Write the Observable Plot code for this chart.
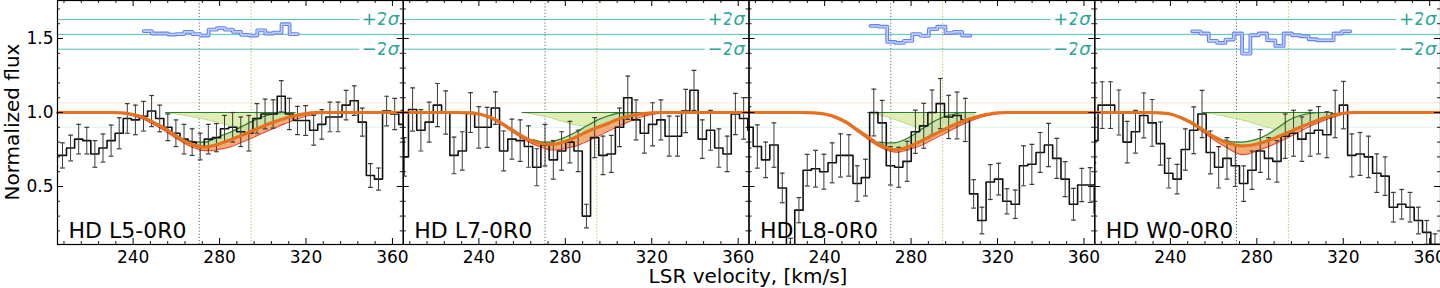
<!DOCTYPE html>
<html><head><meta charset="utf-8">
<script src="https://cdn.jsdelivr.net/npm/d3@7"></script>
<script src="https://cdn.jsdelivr.net/npm/@observablehq/plot@0.6"></script>
<style>
body{margin:0;background:#fff;}
#wrap{position:relative;width:1440px;height:288px;overflow:hidden;font-family:"DejaVu Sans",sans-serif;}
#ylab{position:absolute;left:12px;top:122px;transform:translate(-50%,-50%) rotate(-90deg);font-size:20px;white-space:nowrap;line-height:1;}
#xlab{position:absolute;left:748px;top:276px;transform:translate(-50%,-50%);font-size:20px;white-space:nowrap;line-height:1;}
</style></head>
<body><div id="wrap"><div id="ylab">Normalized flux</div><div id="xlab">LSR velocity, [km/s]</div></div>
<script>
// ---- panels ----
const panels = ["HD L5-0R0", "HD L7-0R0", "HD L8-0R0", "HD W0-0R0"];

// ---- observed spectra (bin centre of first bin, bin width, flux, 1-sigma error) ----
const binStart = [207.3, 205.5, 205.0, 204.6];
const binWidth = [3.75, 3.83, 3.85, 3.85];
const fluxL5 = [0.71,0.76,0.82,0.81,0.72,0.76,0.81,0.86,0.96,0.95,0.975,1.01,0.96,0.90,0.86,0.82,0.80,0.77,0.82,0.83,0.89,0.90,0.87,0.86,0.96,0.99,0.99,1.11,0.99,0.946,0.946,0.88,0.92,0.97,0.97,1.05,1.08,0.935,0.574,0.55,1.01,0.99,0.92];
const errL5 = [0.085,0.087,0.10,0.09,0.09,0.095,0.105,0.105,0.10,0.10,0.10,0.105,0.09,0.09,0.09,0.10,0.09,0.09,0.10,0.095,0.09,0.10,0.10,0.12,0.10,0.10,0.095,0.105,0.105,0.095,0.10,0.10,0.10,0.10,0.10,0.10,0.10,0.095,0.08,0.075,0.10,0.105,0.095];
const fluxL7 = [0.70,1.02,0.88,0.935,1.05,1.0,0.71,0.74,1.0,0.90,0.90,1.03,0.74,0.82,0.81,0.77,0.63,0.78,0.68,0.74,0.80,0.74,0.30,0.83,0.71,0.72,0.90,1.10,0.95,0.86,0.92,0.95,0.84,0.84,1.01,1.15,0.82,0.88,0.76,0.72,0.99,0.96,0.88];
const errL7 = [0.13,0.146,0.14,0.135,0.146,0.146,0.124,0.13,0.135,0.14,0.135,0.11,0.135,0.135,0.14,0.14,0.125,0.14,0.13,0.13,0.14,0.14,0.08,0.135,0.13,0.125,0.13,0.146,0.135,0.135,0.146,0.135,0.135,0.135,0.146,0.135,0.13,0.135,0.13,0.12,0.14,0.14,0.135];
const fluxL8 = [0.90,0.77,0.68,0.78,0.49,0.09,0.34,0.61,0.62,0.60,0.66,0.71,0.71,0.52,0.56,1.0,0.93,0.64,0.63,0.67,0.87,0.91,1.0,1.06,0.97,0.98,0.95,0.45,0.27,0.53,0.55,0.40,0.38,0.64,0.65,0.73,0.78,0.69,0.55,0.38,0.51,0.51,0.32];
const errL8 = [0.14,0.146,0.12,0.15,0.1,0.06,0.085,0.107,0.124,0.118,0.135,0.146,0.14,0.12,0.124,0.158,0.152,0.13,0.135,0.135,0.146,0.152,0.152,0.17,0.146,0.158,0.146,0.096,0.09,0.118,0.107,0.085,0.096,0.135,0.135,0.135,0.146,0.135,0.118,0.107,0.112,0.118,0.1];
const fluxW0 = [0.81,1.05,1.05,1.0,0.80,0.87,0.98,0.93,0.79,0.59,0.55,0.75,0.88,0.99,0.73,0.63,0.69,0.64,0.52,0.61,0.74,0.69,0.67,0.84,0.86,0.82,0.86,0.88,0.85,0.99,1.05,0.71,0.72,0.70,0.59,0.57,0.36,0.38,0.36,0.27,0.19,0.11,0.09];
const errW0 = [0.15,0.158,0.158,0.152,0.14,0.144,0.152,0.158,0.146,0.10,0.10,0.14,0.158,0.16,0.145,0.14,0.14,0.14,0.12,0.13,0.145,0.14,0.14,0.15,0.155,0.15,0.155,0.16,0.155,0.16,0.16,0.145,0.145,0.14,0.13,0.13,0.1,0.1,0.1,0.09,0.08,0.07,0.07];
const fluxes = [fluxL5, fluxL7, fluxL8, fluxW0];
const errors = [errL5, errL7, errL8, errW0];

// ---- residuals (shown around the offset level) ----
const resStart = [246.8, null, 263.2, 252.0];
const resWidth = [3.75, 3.83, 3.85, 3.85];
const resL5 = [1.55,1.534,1.534,1.527,1.53,1.545,1.53,1.52,1.56,1.57,1.56,1.545,1.525,1.52,1.555,1.534,1.54,1.597,1.53];
const resL7 = [];
const resL8 = [1.585,1.58,1.477,1.47,1.484,1.53,1.518,1.563,1.58,1.537,1.545,1.52];
const resW0 = [1.549,1.534,1.484,1.47,1.493,1.534,1.398,1.522,1.534,1.488,1.45,1.534,1.522,1.515,1.495,1.488,1.488,1.534,1.549];
const residuals = [resL5, resL7, resL8, resW0];
const sigmaLevels = [1.628, 1.528, 1.428];
const sigmaLabels = [{sign: "+2", sym: "σ", y: 1.628}, {sign: "−2", sym: "σ", y: 1.428}];

// ---- model curves, sampled at modelVelocity ----
const modelVelocity = [205,230,235,240,245,250,255,260,265,270,273,276,280,285,290,295,300,305,310,315,320,325,330,365];
const modelTotal = [
  [1,1,0.998,0.986,0.965,0.93,0.89,0.842,0.80,0.774,0.766,0.773,0.789,0.815,0.844,0.875,0.907,0.936,0.96,0.979,0.993,0.999,1,1],
  [1,1,0.998,0.99,0.97,0.932,0.886,0.84,0.805,0.787,0.784,0.788,0.805,0.835,0.87,0.9,0.928,0.958,0.978,0.991,0.998,1,1,1],
  [1,1,0.998,0.99,0.97,0.935,0.885,0.835,0.786,0.756,0.748,0.755,0.775,0.81,0.846,0.882,0.917,0.947,0.97,0.987,0.998,1,1,1],
  [1,1,0.998,0.99,0.965,0.93,0.885,0.838,0.803,0.78,0.775,0.777,0.787,0.809,0.838,0.869,0.9,0.93,0.958,0.98,0.995,1,1,1]
];
const modelLower = [
  [1,1,0.995,0.978,0.953,0.915,0.873,0.825,0.782,0.752,0.742,0.743,0.752,0.768,0.798,0.828,0.862,0.893,0.923,0.952,0.975,0.992,0.999,1],
  [1,1,0.996,0.985,0.962,0.922,0.875,0.826,0.788,0.76,0.748,0.748,0.758,0.775,0.805,0.84,0.875,0.91,0.942,0.97,0.988,0.997,1,1],
  [1,1,0.996,0.985,0.962,0.925,0.873,0.82,0.772,0.74,0.732,0.738,0.755,0.78,0.818,0.855,0.893,0.928,0.957,0.978,0.993,1,1,1],
  [1,1,0.996,0.985,0.958,0.92,0.87,0.818,0.772,0.73,0.716,0.72,0.742,0.768,0.8,0.835,0.872,0.91,0.94,0.966,0.988,0.998,1,1]
];
const N = null;
const componentA = [
  [N,N,N,N,N,N,N,N,0.812,0.80,0.80,0.812,0.838,0.867,0.903,0.94,0.972,0.99,1,1,N,N,N,N],
  [N,N,N,N,N,N,N,N,0.817,0.80,0.80,0.812,0.833,0.868,0.91,0.95,0.978,0.996,1,1,N,N,N,N],
  [N,N,N,N,N,N,N,N,0.80,0.795,0.797,0.81,0.84,0.888,0.935,0.97,0.99,1,1,N,N,N,N,N],
  [N,N,N,N,N,N,N,N,0.815,0.80,0.80,0.805,0.82,0.852,0.9,0.95,0.98,0.995,1,1,N,N,N,N]
];
const componentB = [
  [N,N,N,N,N,N,1,0.99,0.978,0.963,0.955,0.945,0.93,0.912,0.903,0.94,0.972,0.99,1,N,N,N,N,N],
  [N,N,N,N,N,N,N,1,0.99,0.975,0.965,0.952,0.935,0.915,0.91,0.95,0.978,0.996,1,N,N,N,N,N],
  [N,N,N,N,N,N,N,1,0.985,0.965,0.95,0.935,0.915,0.888,0.935,0.97,0.99,1,N,N,N,N,N,N],
  [N,N,N,N,N,N,1,0.99,0.975,0.96,0.95,0.94,0.92,0.9,0.885,0.95,0.98,0.995,1,N,N,N,N,N]
];
const lineA = 270.6, lineB = 294.6;

// ---- axes ----
const xMajor = [240, 280, 320, 360];
const xMinor = [208,216,224,232,248,256,264,272,288,296,304,312,328,336,344,352];
const yMajor = [0.5, 1.0, 1.5];
const yMinor = [0.2,0.3,0.4,0.6,0.7,0.8,0.9,1.1,1.2,1.3,1.4,1.6,1.7];

// ---- tables built from the arrays ----
const W = 1440, H = 288, ML = 57, MB = 44, MT = 0;
const frameH = H - MB - MT;
const panelW = (W - ML) / panels.length;

const obs = [], steps = [], res = [], model = [];
panels.forEach((p, k) => {
  const f = fluxes[k], e = errors[k], s = binStart[k], w = binWidth[k];
  f.forEach((v, i) => {
    obs.push({panel: p, v: s + i * w, f: v, e: e[i]});
    steps.push({panel: p, v: s + i * w - w / 2, f: v});
  });
  steps.push({panel: p, v: s + (f.length - 1) * w + w / 2, f: f[f.length - 1]});
  const r = residuals[k];
  if (r.length) {
    const rs = resStart[k], rw = resWidth[k];
    r.forEach((v, i) => res.push({panel: p, v: rs + i * rw - rw / 2, r: v}));
    res.push({panel: p, v: rs + (r.length - 1) * rw + rw / 2, r: r[r.length - 1]});
  }
  modelVelocity.forEach((v, i) => model.push({
    panel: p, v, tot: modelTotal[k][i], low: modelLower[k][i],
    a: componentA[k][i], b: componentB[k][i]
  }));
});
const modelA = model.filter(d => d.a != null);
const modelB = model.filter(d => d.b != null);

const sigmaText = {y: "y", frameAnchor: "right", textAnchor: "end", lineAnchor: "middle",
  fill: "#2aa596", stroke: "white", strokeWidth: 9, paintOrder: "stroke", strokeLinejoin: "round", fontSize: 18};

const plot = Plot.plot({
  width: W, height: H,
  marginLeft: ML, marginRight: 0, marginTop: MT, marginBottom: MB,
  style: {fontFamily: "DejaVu Sans", fontSize: "17px", background: "white", color: "black"},
  fx: {domain: panels, padding: 0, round: false, axis: null},
  x: {domain: [205, 365]},
  y: {domain: [0.108, 1.757]},
  marks: [
    // faint continuum guide lines
    Plot.ruleY([1.065], {stroke: "#fde3cc", strokeWidth: 1}),
    Plot.ruleY([0.90], {stroke: "#e0f4f7", strokeWidth: 1}),
    // component velocities
    Plot.ruleX([lineA], {stroke: "#56658a", strokeWidth: 1, strokeDasharray: "1.2,2"}),
    Plot.ruleX([lineB], {stroke: "#b9b548", strokeWidth: 1, strokeDasharray: "1.2,2"}),
    // residual reference lines
    Plot.ruleY(sigmaLevels, {stroke: "#3cbcae", strokeWidth: 0.9}),
    // model components
    Plot.areaY(modelB, {fx: "panel", x: "v", y1: "b", y2: 1, curve: "monotone-x", fill: "#dcecaa", fillOpacity: 0.9}),
    Plot.line(modelB, {fx: "panel", x: "v", y: "b", curve: "monotone-x", stroke: "#a9cf66", strokeWidth: 0.8}),
    Plot.areaY(model, {fx: "panel", x: "v", y1: "low", y2: "tot", curve: "monotone-x", fill: "#f0904a", fillOpacity: 0.75}),
    Plot.areaY(modelA, {fx: "panel", x: "v", y1: "tot", y2: "a", curve: "monotone-x", fill: "#b9d98a", fillOpacity: 0.75}),
    Plot.line(modelB, {fx: "panel", x: "v", y: 1, stroke: "#2e7d32", strokeWidth: 1.2}),
    Plot.line(modelA, {fx: "panel", x: "v", y: "a", curve: "monotone-x", stroke: "#2e7d32", strokeWidth: 1.2}),
    Plot.line(model, {fx: "panel", x: "v", y: "low", curve: "monotone-x", stroke: "#ea4a2a", strokeWidth: 1.2}),
    // observed spectrum
    Plot.line(steps, {fx: "panel", x: "v", y: "f", curve: "step-after", stroke: "#111", strokeWidth: 1.6, clip: true}),
    Plot.ruleX(obs, {fx: "panel", x: "v", y1: d => d.f - d.e, y2: d => d.f + d.e, stroke: "#3a3a3a", strokeWidth: 1, clip: true}),
    Plot.link(obs, {fx: "panel", x1: d => d.v - 1.1, x2: d => d.v + 1.1, y1: d => d.f + d.e, y2: d => d.f + d.e, stroke: "#3a3a3a", strokeWidth: 1.2, clip: true}),
    Plot.link(obs, {fx: "panel", x1: d => d.v - 1.1, x2: d => d.v + 1.1, y1: d => d.f - d.e, y2: d => d.f - d.e, stroke: "#3a3a3a", strokeWidth: 1.2, clip: true}),
    // best-fit model
    Plot.line(model, {fx: "panel", x: "v", y: "tot", curve: "monotone-x", stroke: "#e4721e", strokeWidth: 3.2}),
    // residuals
    Plot.line(res, {fx: "panel", x: "v", y: "r", curve: "step-after", stroke: "#6384ee", strokeWidth: 3.8}),
    Plot.line(res, {fx: "panel", x: "v", y: "r", curve: "step-after", stroke: "#c3cffb", strokeWidth: 1.6}),
    Plot.text(sigmaLabels, {...sigmaText, text: "sign", dx: -15}),
    Plot.text(sigmaLabels, {...sigmaText, text: "sym", dx: -4, fontStyle: "italic"}),
    // panel labels
    Plot.text(panels, {fx: d => d, text: d => d, frameAnchor: "bottom-left", textAnchor: "start", lineAnchor: "middle",
      dx: 11, dy: -14, fontSize: 22, fill: "black"}),
    // frame and inward ticks
    Plot.frame({stroke: "black", strokeWidth: 1.2}),
    Plot.ruleX(xMajor, {insetTop: frameH - 6, stroke: "black", strokeWidth: 1}),
    Plot.ruleX(xMajor, {insetBottom: frameH - 6, stroke: "black", strokeWidth: 1}),
    Plot.ruleX(xMinor, {insetTop: frameH - 3, stroke: "black", strokeWidth: 0.9}),
    Plot.ruleX(xMinor, {insetBottom: frameH - 3, stroke: "black", strokeWidth: 0.9}),
    Plot.ruleY(yMajor, {insetRight: panelW - 6, stroke: "black", strokeWidth: 1}),
    Plot.ruleY(yMajor, {insetLeft: panelW - 6, stroke: "black", strokeWidth: 1}),
    Plot.ruleY(yMinor, {insetRight: panelW - 3, stroke: "black", strokeWidth: 0.9}),
    Plot.ruleY(yMinor, {insetLeft: panelW - 3, stroke: "black", strokeWidth: 0.9}),
    Plot.axisX({ticks: xMajor, tickSize: 0, tickPadding: 6, label: null, fontSize: 17}),
    Plot.axisY({ticks: yMajor, tickSize: 0, tickPadding: 4, label: null, fontSize: 17, tickFormat: d3.format(".1f")})
  ]
});
const wrap = document.getElementById("wrap");
wrap.insertBefore(plot, wrap.firstChild);
</script>
</body></html>
